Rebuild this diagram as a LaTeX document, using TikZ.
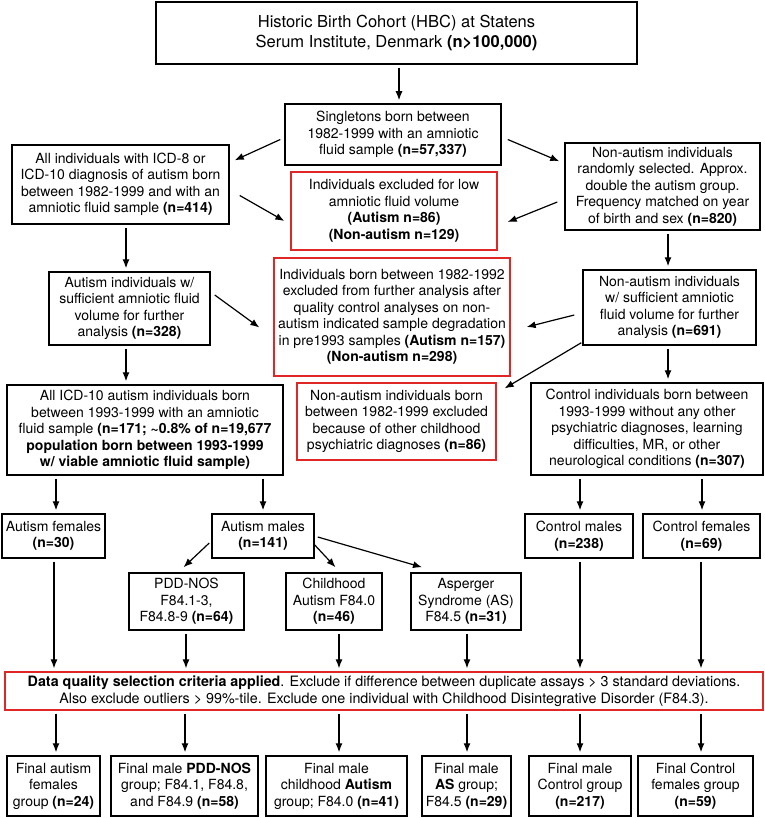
\documentclass[tikz,border=0pt]{standalone}
\usepackage{fontspec}
\setmainfont{TeX Gyre Heros}
\usetikzlibrary{arrows.meta,calc}
\definecolor{boxred}{RGB}{225,38,38}
\tikzset{
  wh/.style 2 args={minimum width=#1pt, minimum height=#2pt},
  bx/.style={draw=black, line width=1.5pt, align=center, inner sep=0pt,
    font=\fontsize{14}{16.5}\selectfont, text=black},
  rbx/.style={bx, draw=boxred, line width=1.3pt},
  arr/.style={-{Latex[length=9pt,width=7pt]}, line width=1.2pt, shorten <=3pt, shorten >=3pt}
}
\begin{document}
\begin{tikzpicture}[x=1pt,y=-1pt]
\useasboundingbox (0,0) rectangle (764,818);

\node[bx, wh={481}{62}, font=\fontsize{16.5}{20}\selectfont] (top) at (396.5,33)
  {Historic Birth Cohort (HBC) at Statens\\Serum Institute, Denmark \textbf{(n>100,000)}};
\node[bx, wh={216}{61}] (sing) at (393,134.5)
  {Singletons born between\\1982-1999 with an amniotic\\fluid sample \textbf{(n=57,337)}};
\node[bx, wh={217}{79}] (icd8) at (120.5,184.5)
  {All individuals with ICD-8 or\\ICD-10 diagnosis of autism born\\between 1982-1999 and with an\\amniotic fluid sample \textbf{(n=414)}};
\node[bx, wh={195}{87}] (nonaut) at (662.5,186.5)
  {Non-autism individuals\\randomly selected. Approx.\\double the autism group.\\Frequency matched on year\\of birth and sex \textbf{(n=820)}};
\node[rbx, wh={206}{78}] (red1) at (394,211)
  {Individuals excluded for low\\amniotic fluid volume\\\textbf{(Autism n=86)}\\\textbf{(Non-autism n=129)}};
\node[bx, wh={161}{73}] (aw) at (129.5,308.5)
  {Autism individuals w/\\sufficient amniotic fluid\\volume for further\\analysis \textbf{(n=328)}};
\node[rbx, wh={236}{118}] (red2) at (392,317)
  {Individuals born between 1982-1992\\excluded from further analysis after\\quality control analyses on non-\\autism indicated sample degradation\\in pre1993 samples \textbf{(Autism n=157)}\\\textbf{(Non-autism n=298)}};
\node[bx, wh={173}{75}] (nw) at (669.5,307.5)
  {Non-autism individuals\\w/ sufficient amniotic\\fluid volume for further\\analysis \textbf{(n=691)}};
\node[bx, wh={276}{90}] (icd10) at (145,430)
  {All ICD-10 autism individuals born\\between 1993-1999 with an amniotic\\fluid sample \textbf{(n=171; \textasciitilde0.8\% of n=19,677}\\\textbf{population born between 1993-1999}\\\textbf{w/ viable amniotic fluid sample)}};
\node[rbx, wh={199}{77}] (red3) at (396.5,421.5)
  {Non-autism individuals born\\between 1982-1999 excluded\\because of other childhood\\psychiatric diagnoses \textbf{(n=86)}};
\node[bx, wh={232}{92}] (ctrl) at (647,429)
  {Control individuals born between\\1993-1999 without any other\\psychiatric diagnoses, learning\\difficulties, MR, or other\\neurological conditions \textbf{(n=307)}};

\node[bx, wh={103}{44}] (af) at (53.5,536) {Autism females\\\textbf{(n=30)}};
\node[bx, wh={102}{44}] (am) at (263,536) {Autism males\\\textbf{(n=141)}};
\node[bx, wh={108}{44}] (cm) at (579,536) {Control males\\\textbf{(n=238)}};
\node[bx, wh={117}{44}] (cf) at (701.5,536) {Control females\\\textbf{(n=69)}};

\node[bx, wh={115}{57}] (pdd) at (186.5,601.5) {PDD-NOS\\F84.1-3,\\F84.8-9 \textbf{(n=64)}};
\node[bx, wh={96}{57}] (ch) at (334,601.5) {Childhood\\Autism F84.0\\\textbf{(n=46)}};
\node[bx, wh={110}{57}] (as) at (466,601.5) {Asperger\\Syndrome (AS)\\F84.5 \textbf{(n=31)}};

\node[rbx, wh={758}{38}, font=\fontsize{14.3}{17}\selectfont] (data) at (384,691)
  {\textbf{Data quality selection criteria applied}. Exclude if difference between duplicate assays > 3 standard deviations.\\Also exclude outliers > 99\%-tile. Exclude one individual with Childhood Disintegrative Disorder (F84.3).};

\node[bx, wh={93}{60}] (f1) at (53.5,786) {Final autism\\females\\group \textbf{(n=24)}};
\node[bx, wh={147}{60}] (f2) at (184.5,786) {Final male \textbf{PDD-NOS}\\group; F84.1, F84.8,\\and F84.9 \textbf{(n=58)}};
\node[bx, wh={141}{60}] (f3) at (336.5,786) {Final male\\childhood \textbf{Autism}\\group; F84.0 \textbf{(n=41)}};
\node[bx, wh={89}{60}] (f4) at (466.5,786) {Final male\\\textbf{AS} group;\\F84.5 \textbf{(n=29)}};
\node[bx, wh={102}{60}] (f5) at (580,786) {Final male\\Control group\\\textbf{(n=217)}};
\node[bx, wh={115}{60}] (f6) at (695.5,786) {Final Control\\females group\\\textbf{(n=59)}};

% vertical arrows
\draw[arr] (top.south -| 399,0) -- (sing.north -| 399,0);
\draw[arr] (icd8.south -| 126,0) -- (aw.north -| 126,0);
\draw[arr] (nonaut.south -| 668,0) -- (nw.north -| 668,0);
\draw[arr] (aw.south -| 126,0) -- (icd10.north -| 126,0);
\draw[arr] (nw.south -| 668,0) -- (ctrl.north -| 668,0);
\draw[arr] (icd10.south -| 56,0) -- (af.north -| 56,0);
\draw[arr] (icd10.south -| 263,0) -- (am.north -| 263,0);
\draw[arr] (ctrl.south -| 580,0) -- (cm.north -| 580,0);
\draw[arr] (ctrl.south -| 702,0) -- (cf.north -| 702,0);
\draw[arr] (af.south -| 54,0) -- (data.north -| 54,0);
\draw[arr] (pdd.south -| 186,0) -- (data.north -| 186,0);
\draw[arr] (ch.south -| 339,0) -- (data.north -| 339,0);
\draw[arr] (as.south -| 467,0) -- (data.north -| 467,0);
\draw[arr] (cm.south -| 580,0) -- (data.north -| 580,0);
\draw[arr] (cf.south -| 701,0) -- (data.north -| 701,0);
\draw[arr] (data.south -| 56,0) -- (f1.north -| 56,0);
\draw[arr] (data.south -| 185,0) -- (f2.north -| 185,0);
\draw[arr] (data.south -| 339,0) -- (f3.north -| 339,0);
\draw[arr] (data.south -| 467,0) -- (f4.north -| 467,0);
\draw[arr] (data.south -| 580,0) -- (f5.north -| 580,0);
\draw[arr] (data.south -| 701,0) -- (f6.north -| 701,0);

% diagonal arrows
\draw[arr, shorten <=0pt, shorten >=0pt] ($(sing.west)+(-4,5)$) -- ($(icd8.north east)+(5,16)$);
\draw[arr, shorten <=0pt, shorten >=0pt] ($(sing.east)+(6,5)$) -- ($(nonaut.north west)+(-5,19)$);
\draw[arr, shorten <=0pt, shorten >=0pt] ($(icd8.east)+(10,11)$) -- ($(red1.west)+(-6,10)$);
\draw[arr, shorten <=0pt, shorten >=0pt] ($(nonaut.west)+(-7,15.5)$) -- ($(red1.east)+(10,11)$);
\draw[arr, shorten <=0pt, shorten >=0pt] ($(aw.east)+(4,-13.5)$) -- ($(red2.west)+(-14,10.5)$);
\draw[arr, shorten <=0pt, shorten >=0pt] ($(nw.west)+(-8,7.5)$) -- ($(red2.east)+(16,10)$);
\draw[arr, shorten <=0pt, shorten >=0pt] ($(nw.south west)+(-1,-3)$) -- ($(red3.north east)+(8,6)$);
\draw[arr, shorten <=0pt, shorten >=0pt] ($(am.west)+(-2,7)$) -- ($(pdd.north)+(-3,-5)$);
\draw[arr, shorten <=0pt, shorten >=0pt] ($(am.east)+(0,9)$) -- ($(ch.north)+(1.5,-5)$);
\draw[arr, shorten <=0pt, shorten >=0pt] ($(am.east)+(3,1)$) -- ($(as.north)+(-44,-5)$);
\end{tikzpicture}
\end{document}
